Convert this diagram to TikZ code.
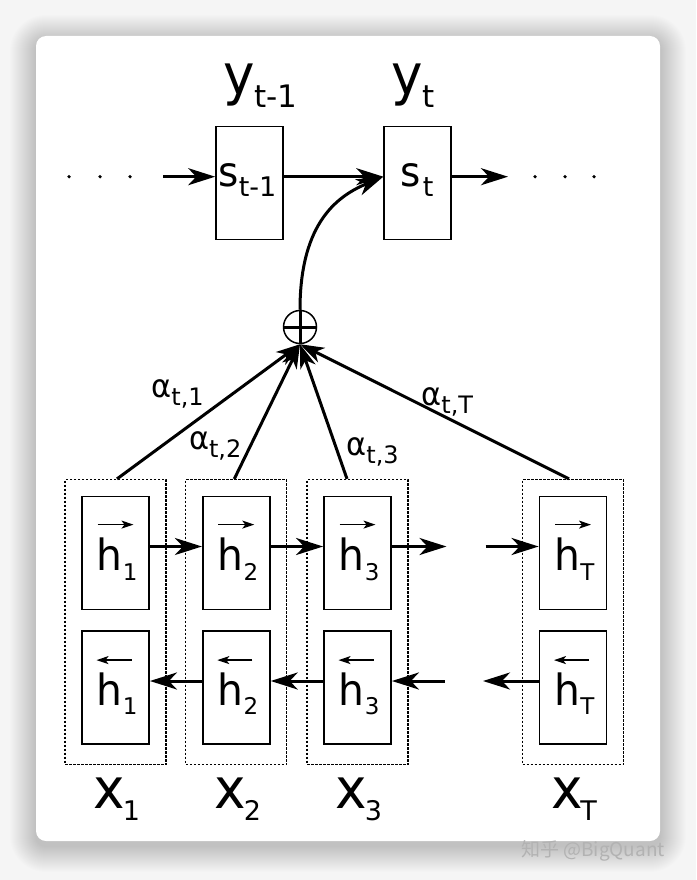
\documentclass[tikz,border=0pt]{standalone}
\usepackage{fontspec}
\setmainfont{DejaVu Sans}[FakeStretch=0.95]
\newfontfamily\subf{DejaVu Sans}
\newfontfamily\cjkfont{Noto Sans CJK SC}
\usetikzlibrary{arrows.meta,calc}
\definecolor{bgc}{RGB}{245,245,245}
\definecolor{wmgray}{RGB}{178,178,178}
\newcommand\mylab[5]{{\fontsize{#1}{#1}\selectfont #2}\raisebox{-#5pt}{\subf\fontsize{#3}{#3}\selectfont #4}}
\begin{document}
\begin{tikzpicture}[x=1pt,y=-1pt,
  box/.style={draw, line width=1.8pt, minimum width=67pt, minimum height=113pt, inner sep=0pt},
  dotbox/.style={draw, line width=1.2pt, dash pattern=on 2.5pt off 1.5pt, minimum width=101pt, minimum height=285pt, inner sep=0pt},
  conn/.style={line width=3pt, -{Stealth[length=27pt,width=17pt,inset=8pt]}},
  att/.style={line width=3pt, -{Stealth[length=24pt,width=16pt,inset=7pt]}},
  vecarr/.style={line width=1.5pt, -{Stealth[length=12pt,width=8pt,inset=3pt]}},
  lab/.style={anchor=base west, inner sep=0pt, outer sep=0pt}]
\useasboundingbox (0,0) rectangle (696,880);
\fill[bgc] (0,0) rectangle (696,880);
\foreach \i [evaluate=\i as \r using 10+\i] in {1,...,26}
  \fill[black, opacity=0.0065, rounded corners=\r pt] ({36-\i},{41-\i}) rectangle ({660+\i},{846+\i});
\fill[white, rounded corners=10pt] (36,36) rectangle (660,841);

% decoder
\node[lab] (y1) at (223,95) {\mylab{56}{y}{31}{t-1}{13}};
\node[lab] (y2) at (391,95) {\mylab{56}{y}{31}{t}{13}};
\node[box] (S1) at (249.6,183) {};
\node[box] (S2) at (417.7,183) {};
\node[lab] (s1t) at (218.5,186) {\mylab{41}{s}{27}{t-1}{10}};
\node[lab] (s2t) at (400.5,186) {\mylab{41}{s\kern2pt}{27}{t}{10}};
\foreach \dx in {69,100,130,535,565,594} \fill (\dx,176.7) circle (1.8);
\coordinate (sin) at (163,176.7);
\coordinate (sout) at (508,176.7);
\draw[conn] (sin) -- ([yshift=6.3pt]S1.west);
\draw[conn] ([yshift=6.3pt]S1.east) -- ([yshift=6.3pt]S2.west);
\draw[conn] ([yshift=6.3pt]S2.east) -- (sout);

% encoder columns
\foreach \cx/\n in {115.5/1,236.3/2,357.5/3,573/T} {
  \node[dotbox] (D\n) at (\cx,622) {};
  \node[box] (H\n) at (\cx,553) {};
  \node[box] (B\n) at (\cx,687.5) {};
  \node[lab] (hf\n) at (\cx-18.6,570) {\mylab{43}{h}{23}{\n}{10}};
  \node[lab] (hb\n) at (\cx-18.6,705) {\mylab{43}{h}{23}{\n}{9}};
  \draw[vecarr] ($(H\n.north)+(-18,29)$) -- ($(H\n.north)+(18,29)$);
  \draw[vecarr] ($(B\n.north)+(16,30)$) -- ($(B\n.north)+(-19,30)$);
  \node[lab] (x\n) at (\cx-22,808) {\mylab{56}{x\kern-2pt}{27}{\n}{12}};
}
\coordinate (fout) at (446.5,546.5);
\coordinate (fin) at (485.5,546.5);
\draw[conn] ([yshift=6.5pt]H1.east) -- ([yshift=6.5pt]H2.west);
\draw[conn] ([yshift=6.5pt]H2.east) -- ([yshift=6.5pt]H3.west);
\draw[conn] ([yshift=6.5pt]H3.east) -- (fout);
\draw[conn] (fin) -- ([yshift=6.5pt]HT.west);
\coordinate (bin) at (444.6,681);
\coordinate (bout) at (483,681);
\draw[conn] ([yshift=6.5pt]B2.west) -- ([yshift=6.5pt]B1.east);
\draw[conn] ([yshift=6.5pt]B3.west) -- ([yshift=6.5pt]B2.east);
\draw[conn] (bin) -- ([yshift=6.5pt]B3.east);
\draw[conn] ([yshift=6.5pt]BT.west) -- (bout);

% attention
\node[circle, draw, line width=1.5pt, minimum size=33pt, inner sep=0pt] (plus) at (300,327) {};
\draw[line width=3pt] (plus.west) -- (plus.east);
\draw[line width=3pt] (plus.north) -- (plus.south);
\draw[att] ([xshift=1.5pt]D1.north) -- (plus.south);
\draw[att] ([xshift=-2pt]D2.north) -- (plus.south);
\draw[att] ([xshift=-10.5pt]D3.north) -- (plus.south);
\draw[att] ([xshift=-4pt]DT.north) -- (plus.south);
\draw[conn] (plus.north) .. controls (300,220) and (340,195) .. ([yshift=6.3pt]S2.west);
\node[lab] (a1) at (151.4,397) {\mylab{32}{α}{24}{t,1}{8}};
\node[lab] (a2) at (189,449) {\mylab{32}{α}{24}{t,2}{8}};
\node[lab] (a3) at (346.4,455) {\mylab{32}{α}{24}{t,3}{8}};
\node[lab] (aT) at (421.4,405) {\mylab{32}{α}{24}{t,T}{8}};

\node[anchor=west, inner sep=0pt, text=wmgray] (wm) at (521,851) {\cjkfont\fontsize{19}{19}\selectfont 知乎 @BigQuant};
\end{tikzpicture}
\end{document}
